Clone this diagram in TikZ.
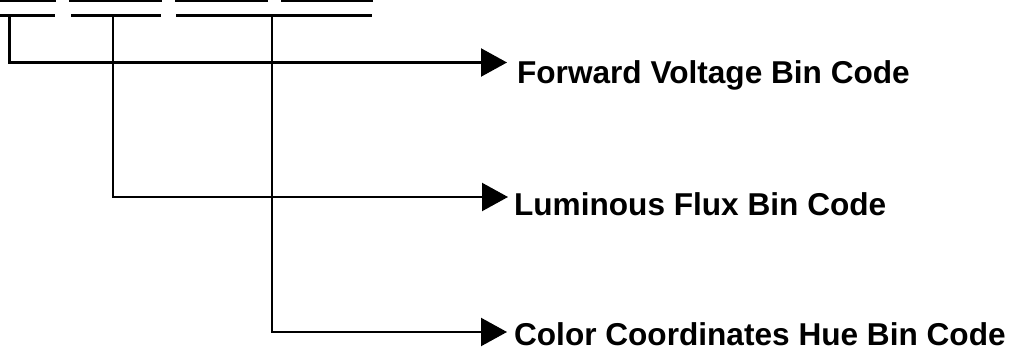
\documentclass[tikz,border=0pt]{standalone}
\usepackage{fontspec}
\setmainfont{Liberation Sans}
\usetikzlibrary{arrows.meta}
\begin{document}
\begin{tikzpicture}[x=1pt, y=-1pt, line width=2.2pt,
                    tap/.style={-{Triangle[length=26pt, width=28pt]}},
                    bincode/.style={anchor=base west, inner sep=0pt, font=\fontsize{31.6}{38}\selectfont\bfseries}]
                    \useasboundingbox (0,0) rectangle (1021,350);

                    % code segments
                    \draw (0,0.8) -- (56,0.8);
                    \draw (69,0.8) -- (162,0.8);
                    \draw (175,0.8) -- (268,0.8);
                    \draw (281,0.8) -- (373,0.8);
                    \draw (0,15.5) -- (55,15.5);
                    \draw (71,15.5) -- (161,15.5);
                    \draw (176,15.5) -- (372,15.5);

                    \coordinate (1) at (9.5,15.5);
                    \coordinate (2) at (113,15.5);
                    \coordinate (3) at (272,15.5);
                    \coordinate (e1) at (507,62.5);
                    \coordinate (e2) at (508,197);
                    \coordinate (e3) at (507,332);

                    \node[bincode] (fv) at (516,83.3) {Forward Voltage Bin Code};
                    \node[bincode] (lf) at (513,215) {Luminous Flux Bin Code};
                    \node[bincode] (cc) at (513,345) {Color Coordinates Hue Bin Code};

                    \draw[tap] (1) |- (e1);
                    \draw[tap] (2) |- (e2);
                    \draw[tap] (3) |- (e3);
                \end{tikzpicture}
\end{document}
